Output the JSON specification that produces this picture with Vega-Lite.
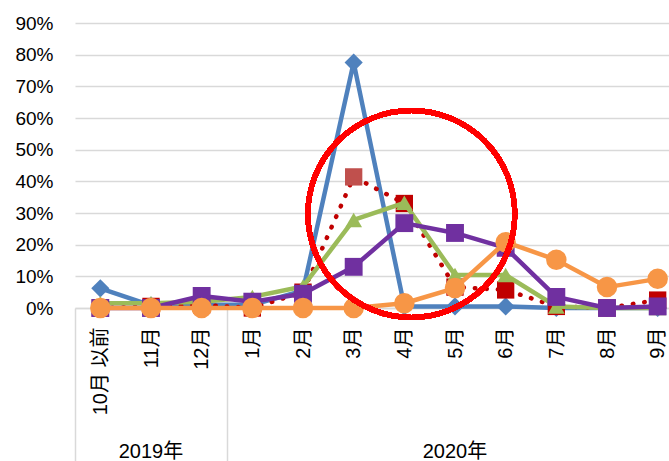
{
  "$schema": "https://vega.github.io/schema/vega-lite/v6.json",
  "autosize": "none",
  "width": 608,
  "height": 285,
  "padding": {"left": 75, "top": 23, "right": -14, "bottom": 153},
  "background": "white",
  "config": {
    "view": {"stroke": null},
    "font": "Liberation Sans, Noto Sans CJK JP",
    "axis": {"labelFont": "Liberation Sans, Noto Sans CJK JP", "labelColor": "#000000"}
  },
  "data": {
    "values": [
      {"series": "系列1", "month": "10月 以前", "value": 0.062},
      {"series": "系列1", "month": "11月", "value": 0.008},
      {"series": "系列1", "month": "12月", "value": 0.01},
      {"series": "系列1", "month": "1月", "value": 0.01},
      {"series": "系列1", "month": "2月", "value": 0.055},
      {"series": "系列1", "month": "3月", "value": 0.775},
      {"series": "系列1", "month": "4月", "value": 0.005},
      {"series": "系列1", "month": "5月", "value": 0.005},
      {"series": "系列1", "month": "6月", "value": 0.005},
      {"series": "系列1", "month": "7月", "value": 0.0},
      {"series": "系列1", "month": "8月", "value": 0.0},
      {"series": "系列1", "month": "9月", "value": 0.0},
      {"series": "系列2", "month": "10月 以前", "value": 0.0},
      {"series": "系列2", "month": "11月", "value": 0.005},
      {"series": "系列2", "month": "12月", "value": 0.01},
      {"series": "系列2", "month": "1月", "value": 0.0},
      {"series": "系列2", "month": "2月", "value": 0.05},
      {"series": "系列2", "month": "3月", "value": 0.414},
      {"series": "系列2", "month": "4月", "value": 0.33},
      {"series": "系列2", "month": "5月", "value": 0.066},
      {"series": "系列2", "month": "6月", "value": 0.057},
      {"series": "系列2", "month": "7月", "value": 0.005},
      {"series": "系列2", "month": "8月", "value": 0.0},
      {"series": "系列2", "month": "9月", "value": 0.025},
      {"series": "系列3", "month": "10月 以前", "value": 0.015},
      {"series": "系列3", "month": "11月", "value": 0.015},
      {"series": "系列3", "month": "12月", "value": 0.02},
      {"series": "系列3", "month": "1月", "value": 0.035},
      {"series": "系列3", "month": "2月", "value": 0.068},
      {"series": "系列3", "month": "3月", "value": 0.278},
      {"series": "系列3", "month": "4月", "value": 0.332},
      {"series": "系列3", "month": "5月", "value": 0.104},
      {"series": "系列3", "month": "6月", "value": 0.104},
      {"series": "系列3", "month": "7月", "value": 0.005},
      {"series": "系列3", "month": "8月", "value": 0.0},
      {"series": "系列3", "month": "9月", "value": 0.0},
      {"series": "系列4", "month": "10月 以前", "value": 0.0},
      {"series": "系列4", "month": "11月", "value": 0.0},
      {"series": "系列4", "month": "12月", "value": 0.038},
      {"series": "系列4", "month": "1月", "value": 0.02},
      {"series": "系列4", "month": "2月", "value": 0.045},
      {"series": "系列4", "month": "3月", "value": 0.13},
      {"series": "系列4", "month": "4月", "value": 0.268},
      {"series": "系列4", "month": "5月", "value": 0.237},
      {"series": "系列4", "month": "6月", "value": 0.19},
      {"series": "系列4", "month": "7月", "value": 0.035},
      {"series": "系列4", "month": "8月", "value": 0.0},
      {"series": "系列4", "month": "9月", "value": 0.005},
      {"series": "系列5", "month": "10月 以前", "value": 0.0},
      {"series": "系列5", "month": "11月", "value": 0.0},
      {"series": "系列5", "month": "12月", "value": 0.0},
      {"series": "系列5", "month": "1月", "value": 0.0},
      {"series": "系列5", "month": "2月", "value": 0.0},
      {"series": "系列5", "month": "3月", "value": 0.0},
      {"series": "系列5", "month": "4月", "value": 0.015},
      {"series": "系列5", "month": "5月", "value": 0.063},
      {"series": "系列5", "month": "6月", "value": 0.208},
      {"series": "系列5", "month": "7月", "value": 0.152},
      {"series": "系列5", "month": "8月", "value": 0.066},
      {"series": "系列5", "month": "9月", "value": 0.092}
    ]
  },
  "encoding": {
    "x": {
      "field": "month",
      "type": "ordinal",
      "scale": {
        "type": "band",
        "domain": ["10月 以前", "11月", "12月", "1月", "2月", "3月", "4月", "5月", "6月", "7月", "8月", "9月"],
        "paddingInner": 0,
        "paddingOuter": 0
      },
      "axis": {
        "title": null,
        "labelAngle": -90,
        "labelFontSize": 20,
        "labelPadding": -134,
        "domainColor": "#d9d9d9",
        "domainWidth": 1.5,
        "tickBand": "extent",
        "tickSize": 153,
        "tickWidth": 1.5,
        "tickColor": {"condition": {"test": "datum.value === '12月' || datum.extra", "value": "#d9d9d9"}, "value": "transparent"},
        "grid": false
      }
    },
    "y": {
      "field": "value",
      "type": "quantitative",
      "scale": {"domain": [0, 0.9], "nice": false, "zero": true},
      "axis": {
        "title": null,
        "values": [0, 0.1, 0.2, 0.3, 0.4, 0.5, 0.6, 0.7, 0.8, 0.9],
        "format": ".0%",
        "labelFontSize": 19,
        "labelPadding": 22,
        "domain": false,
        "ticks": false,
        "gridColor": "#d9d9d9",
        "gridWidth": 1.5
      }
    }
  },
  "layer": [
    {
      "transform": [{"filter": "datum.series === '系列1'"}],
      "mark": {"type": "line", "color": "#4f81bd", "strokeWidth": 4.5, "strokeJoin": "round"}
    },
    {
      "transform": [{"filter": "datum.series === '系列1'"}],
      "mark": {"type": "point", "shape": "diamond", "filled": true, "color": "#4f81bd", "opacity": 1, "size": 330}
    },
    {
      "transform": [{"filter": "datum.series === '系列2'"}],
      "mark": {"type": "line", "color": "#c00000", "strokeWidth": 4.5, "strokeDash": [0.5, 11], "strokeCap": "round"}
    },
    {
      "transform": [{"filter": "datum.series === '系列2'"}],
      "mark": {"type": "point", "shape": "square", "filled": true, "opacity": 1, "size": 300},
      "encoding": {
        "color": {"condition": {"test": "datum.month === '3月'", "value": "#c0504d"}, "value": "#c00000"}
      }
    },
    {
      "transform": [{"filter": "datum.series === '系列3'"}],
      "mark": {"type": "line", "color": "#9bbb59", "strokeWidth": 4.5, "strokeJoin": "round"}
    },
    {
      "transform": [{"filter": "datum.series === '系列3'"}],
      "mark": {"type": "point", "shape": "triangle-up", "filled": true, "color": "#9bbb59", "opacity": 1, "size": 280}
    },
    {
      "transform": [{"filter": "datum.series === '系列4'"}],
      "mark": {"type": "line", "color": "#7030a0", "strokeWidth": 4.5, "strokeJoin": "round"}
    },
    {
      "transform": [{"filter": "datum.series === '系列4'"}],
      "mark": {"type": "point", "shape": "square", "filled": true, "color": "#7030a0", "opacity": 1, "size": 320}
    },
    {
      "transform": [{"filter": "datum.series === '系列5'"}],
      "mark": {"type": "line", "color": "#f79646", "strokeWidth": 4.5, "strokeJoin": "round"}
    },
    {
      "transform": [{"filter": "datum.series === '系列5'"}],
      "mark": {"type": "point", "shape": "circle", "filled": true, "color": "#f79646", "opacity": 1, "size": 420}
    },
    {
      "mark": {"type": "point", "shape": "circle", "filled": false, "stroke": "#ff0000", "strokeWidth": 5, "opacity": 1, "size": 42800, "xOffset": 7},
      "encoding": {
        "x": {"datum": "4月"},
        "y": {"datum": 0.297}
      }
    },
    {
      "data": {"values": [{"month": "11月", "year": "2019年", "value": 0}, {"month": "5月", "year": "2020年", "value": 0}]},
      "mark": {"type": "text", "fontSize": 20, "color": "#000000", "baseline": "middle", "align": "center", "yOffset": 144},
      "encoding": {
        "text": {"field": "year", "type": "nominal"}
      }
    }
  ]
}
